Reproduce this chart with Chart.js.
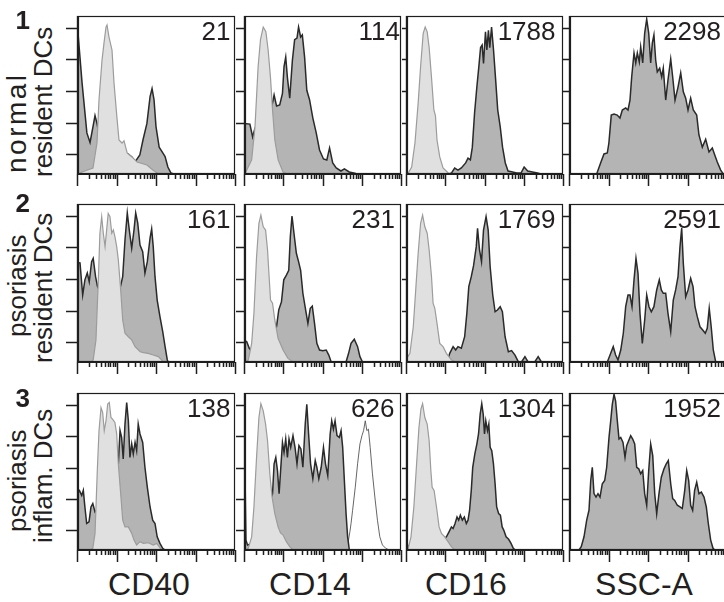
<!DOCTYPE html>
<html><head><meta charset="utf-8">
<script src="https://cdn.jsdelivr.net/npm/chart.js@4.4.1/dist/chart.umd.min.js"></script>
<style>
html,body{margin:0;padding:0;background:#fff;overflow:hidden;width:724px;height:602px;}
#wrap{position:relative;width:724px;height:602px;overflow:hidden;font-family:"Liberation Sans",Arial,Helvetica,sans-serif;color:#231f20;}
.num{position:absolute;font-size:26px;line-height:26px;text-align:right;width:120px;white-space:nowrap;}
.rl{position:absolute;font-size:26px;line-height:26px;white-space:nowrap;transform-origin:0 0;transform:rotate(-90deg);}
.rn{position:absolute;font-size:26px;font-weight:bold;line-height:26px;text-align:right;width:40px;}
.xt{position:absolute;font-size:32px;line-height:32px;width:160px;text-align:center;white-space:nowrap;}
</style></head><body><div id="wrap"></div>
<script>
// ---------- data: x in decades (0..4), y in % of panel height ----------
const markers = ['CD40','CD14','CD16','SSC-A'];
const rowNumbers = ['1','2','3'];
const rowLines = [['normal','resident DCs'],['psoriasis','resident DCs'],['psoriasis','inflam. DCs']];
const panelValues = [['21','114','1788','2298'],['161','231','1769','2591'],['138','626','1304','1952']];
const xMajor = [0,1,2,3,4];
const minorMultipliers = [2,3,4,5,6,7,8,9];
const yTicks = [12.5,32.5,52.5,72.5,92.5];

const cd40_normal_iso = [[0.05,0],[0.127,1.3],[0.405,3.8],[0.506,19.6],[0.557,47],[0.633,72],[0.684,83],[0.734,93],[0.76,94.3],[0.81,86.7],[0.886,78.5],[0.937,57.6],[1.01,36],[1.063,21.5],[1.14,19.6],[1.19,21],[1.27,13.3],[1.39,10.8],[1.52,7.6],[1.77,5.7],[1.92,2.5],[2.03,0.6],[2.1,0]];
const cd40_normal_stain = [[0,97],[0.025,97],[0.127,58],[0.25,26],[0.33,20],[0.405,30],[0.456,37],[0.506,32],[0.58,21.5],[0.71,15],[0.96,10],[1.22,12],[1.29,12.7],[1.39,10.8],[1.47,7.6],[1.59,12],[1.67,21.5],[1.77,32],[1.85,49],[1.9,54],[1.95,47],[2.0,30],[2.08,17],[2.18,13],[2.23,11],[2.3,4.4],[2.38,0.6],[2.45,0]];
const cd14_normal_iso = [[0.03,0],[0.07,2.5],[0.195,8.9],[0.28,30],[0.36,68],[0.42,85],[0.49,93],[0.557,90],[0.615,78.5],[0.675,61],[0.727,40.5],[0.785,21.5],[0.87,8.9],[0.995,1.3],[1.11,0]];
const cd14_normal_stain = [[0,32],[0.025,32],[0.15,31.6],[0.22,23.4],[0.28,29],[0.405,30],[0.53,32],[0.66,38],[0.727,45],[0.767,50],[0.83,43],[0.91,43.7],[0.98,51],[1.02,68],[1.063,74],[1.106,61],[1.165,48],[1.233,72],[1.29,85],[1.35,86],[1.39,93],[1.443,86.7],[1.486,88],[1.544,74],[1.6,53],[1.67,47],[1.754,35.4],[1.84,26],[1.924,15.2],[2.025,9.5],[2.11,8.9],[2.18,16.5],[2.26,7],[2.35,3.8],[2.47,1.9],[2.557,3.2],[2.68,1.3],[2.85,0.4],[2.95,0]];
const cd16_normal_iso = [[0.02,0],[0.058,0.6],[0.144,4.4],[0.228,19.6],[0.31,45],[0.372,68],[0.438,89],[0.489,93],[0.54,90],[0.59,80],[0.65,61],[0.71,40.5],[0.75,37],[0.79,21.5],[0.86,10.8],[0.944,3.8],[1.07,0.8],[1.157,0]];
const cd16_normal_stain = [[1.1,0],[1.157,0.6],[1.24,3.8],[1.324,2.5],[1.41,3.8],[1.52,7],[1.58,10],[1.64,8.9],[1.69,17],[1.747,38.6],[1.805,55],[1.856,68],[1.9,80],[1.94,81.6],[1.975,70],[2.025,90],[2.06,78.5],[2.1,91],[2.134,80],[2.18,93],[2.23,78.5],[2.28,61],[2.337,40.5],[2.4,30],[2.46,17],[2.53,7],[2.6,1.9],[2.717,1.3],[2.82,0.6],[2.93,0.6],[3.01,4.4],[3.1,1.9],[3.22,1.3],[3.35,0.6],[3.435,0]];
const ssc_normal = [[0.7,0],[0.8,7],[0.886,12.7],[0.97,13.3],[1.01,19.6],[1.07,37.3],[1.14,38],[1.22,37.3],[1.29,35.4],[1.35,40.5],[1.435,41.8],[1.494,40.5],[1.544,46.8],[1.587,61.4],[1.646,76.6],[1.69,70.3],[1.73,76.6],[1.78,71],[1.815,80.4],[1.866,70.3],[1.916,89.2],[1.967,98],[2.018,89.2],[2.068,70.3],[2.11,83],[2.15,88],[2.195,72],[2.235,64.6],[2.296,67],[2.347,61.4],[2.387,67],[2.448,46.8],[2.506,59.5],[2.575,72.8],[2.625,61.4],[2.684,46.8],[2.76,55],[2.828,64],[2.894,52],[2.954,48],[3.013,40.5],[3.08,48],[3.147,40.5],[3.233,37.3],[3.29,24.7],[3.375,17],[3.46,22],[3.544,14],[3.628,16.5],[3.69,12],[3.754,7.6],[3.84,2.5],[3.906,0]];

const cd40_psor_iso = [[0.36,0],[0.41,1.3],[0.48,14],[0.54,52],[0.58,81.5],[0.625,92],[0.666,81.5],[0.71,73],[0.75,83.5],[0.79,94],[0.835,92],[0.88,81.5],[0.92,83.5],[0.96,79.3],[1.005,73],[1.046,64.6],[1.106,45.6],[1.157,26.6],[1.215,18.2],[1.3,16],[1.385,14],[1.47,9.7],[1.6,6.5],[1.68,5.9],[1.8,5.5],[1.93,4.4],[2.06,3.4],[2.14,1.3],[2.18,0]];
const cd40_psor_stain = [[0,63],[0.076,62.7],[0.144,42.4],[0.2,52],[0.26,56.3],[0.31,50.8],[0.37,63.5],[0.41,65.6],[0.47,54],[0.52,47.7],[0.58,45],[0.8,45],[1.0,44],[1.09,46.8],[1.157,54],[1.215,77.2],[1.273,94.3],[1.324,83.5],[1.385,72],[1.443,83.5],[1.486,94.3],[1.537,88],[1.595,74],[1.663,69.8],[1.72,56.3],[1.78,63.5],[1.85,78.5],[1.89,84.2],[1.93,73],[1.975,54],[2.03,39.2],[2.1,28.7],[2.17,19.2],[2.23,9.7],[2.286,1.3],[2.31,0]];
const cd14_psor_iso = [[0.06,0],[0.11,1.3],[0.195,11.8],[0.253,30.8],[0.32,66.6],[0.38,87.8],[0.43,93],[0.49,85.6],[0.55,83.5],[0.6,70.9],[0.64,54],[0.676,39.2],[0.727,37.2],[0.785,26.6],[0.868,15],[0.995,7.6],[1.12,2.3],[1.25,0]];
const cd14_psor_stain = [[0,14],[0.07,12.8],[0.134,8.7],[0.25,5],[0.45,6],[0.6,10],[0.72,18],[0.828,22.3],[0.886,33],[0.954,38],[1.013,52],[1.08,55],[1.14,58],[1.18,79.3],[1.223,92.4],[1.273,81.5],[1.334,68.8],[1.39,63.5],[1.443,58],[1.5,43.5],[1.57,33],[1.628,24.5],[1.688,34],[1.74,35.4],[1.797,24.5],[1.856,11.8],[1.924,7.6],[2.008,7.2],[2.094,7.6],[2.16,4.4],[2.22,0.2],[2.6,0],[2.665,5.5],[2.727,11.8],[2.81,14.4],[2.894,9.7],[2.954,3.4],[3.02,0]];
const cd16_psor_iso = [[0,0],[0.018,2.3],[0.1,5.5],[0.185,22.3],[0.253,47.7],[0.31,68.8],[0.372,87.8],[0.423,93],[0.48,85.6],[0.54,81.5],[0.59,70.9],[0.65,54],[0.69,37.2],[0.734,34],[0.79,24.5],[0.86,11.8],[0.944,9.7],[1.03,5.5],[1.157,1.3],[1.28,0]];
const cd16_psor_stain = [[1.05,0],[1.114,5.5],[1.2,9.7],[1.266,7.6],[1.324,9.7],[1.41,8.7],[1.494,16],[1.55,30.8],[1.6,47.7],[1.663,54],[1.72,60.8],[1.79,73],[1.823,84.6],[1.873,70.9],[1.924,63.5],[1.975,83.5],[2.04,92],[2.094,83.5],[2.144,60.3],[2.21,42.4],[2.27,31.8],[2.33,32.9],[2.4,35],[2.456,31.8],[2.524,16],[2.608,6.5],[2.69,7.2],[2.777,4.4],[2.86,0.2],[2.944,0],[3.03,3.4],[3.11,0],[3.28,0],[3.367,3.4],[3.45,0]];
const ssc_psor = [[0.97,0],[1.056,5.5],[1.12,9.7],[1.18,4.4],[1.24,1.3],[1.31,7.6],[1.375,18.2],[1.435,35],[1.494,42.4],[1.544,42.4],[1.595,35],[1.646,52],[1.696,65.6],[1.747,56.1],[1.797,30.8],[1.856,11.8],[1.916,26.6],[1.967,42.4],[2.025,35],[2.084,31.8],[2.15,35],[2.22,45.6],[2.286,52],[2.337,45.6],[2.387,43.5],[2.448,43.5],[2.506,30.8],[2.575,19.2],[2.64,39.2],[2.7,45.6],[2.76,54],[2.81,73],[2.853,84.8],[2.894,62.5],[2.954,41.3],[3.013,45.6],[3.08,53],[3.14,47.7],[3.19,35],[3.248,28.7],[3.316,22.3],[3.385,20.3],[3.45,18.2],[3.5,21.3],[3.55,34],[3.6,22.3],[3.653,7.6],[3.714,0]];

const cd40_infl_iso = [[0.35,0],[0.4,1.1],[0.456,10.6],[0.514,50.6],[0.557,76],[0.608,90.7],[0.65,87.5],[0.69,76],[0.734,82.3],[0.777,93],[0.818,94],[0.86,84.4],[0.9,83.3],[0.96,81.2],[1.005,73.9],[1.046,54.9],[1.106,35.9],[1.157,19],[1.215,14.7],[1.3,14.7],[1.385,10.6],[1.443,6.3],[1.51,3.2],[1.595,5.3],[1.68,4.2],[1.805,4.6],[1.93,3.2],[2.018,4.2],[2.08,2.1],[2.14,0]];
const cd40_infl_stain = [[0,38],[0.058,38],[0.12,34.8],[0.16,38],[0.2,27.4],[0.245,16.9],[0.304,17.9],[0.354,27.4],[0.4,29.6],[0.456,24.2],[0.52,26],[0.6,30],[0.8,40],[1.0,50],[1.046,55],[1.09,76],[1.13,71.7],[1.17,58],[1.215,80.2],[1.258,93.9],[1.3,82.3],[1.34,59],[1.385,67.5],[1.425,61.2],[1.47,68.5],[1.51,63.3],[1.55,80.2],[1.595,73.9],[1.663,68.5],[1.72,52.7],[1.78,40],[1.85,27.4],[1.916,19],[1.975,16.9],[2.03,8.4],[2.1,4.2],[2.17,1.1],[2.23,0]];
const cd14_infl_iso = [[0.06,0],[0.11,1.1],[0.195,8.4],[0.253,27.4],[0.32,59],[0.38,84.4],[0.43,93.2],[0.49,88.6],[0.55,80.2],[0.6,69.6],[0.658,48.5],[0.716,33.7],[0.785,23.2],[0.868,14.7],[0.93,10.9],[0.995,9.5],[1.08,5.3],[1.165,2.1],[1.25,0]];
const cd14_infl_stain = [[0,62],[0.025,50],[0.05,6.3],[0.09,3.2],[0.3,5],[0.5,15],[0.65,30],[0.727,35.9],[0.767,54.9],[0.81,59],[0.853,50.6],[0.894,35.9],[0.98,68.5],[1.02,62.2],[1.063,70.7],[1.106,59],[1.147,70.7],[1.19,65.4],[1.248,72.8],[1.3,65.4],[1.35,54.9],[1.4,66.5],[1.45,64.4],[1.5,52.7],[1.56,80.2],[1.6,92.8],[1.646,73.9],[1.696,54.9],[1.754,45.4],[1.815,57],[1.856,52.7],[1.906,45.4],[1.967,52.7],[2.025,65.4],[2.076,54.9],[2.134,47.5],[2.195,73.9],[2.235,82.3],[2.278,77],[2.32,82.3],[2.37,72.8],[2.43,71.7],[2.473,76],[2.514,65.4],[2.557,44.3],[2.6,23.2],[2.64,8.4],[2.684,0]];
const cd14_infl_ctrl2 = [[2.62,0],[2.7,12],[2.727,16.9],[2.767,25.3],[2.835,40],[2.894,54.9],[2.954,67.5],[3.005,72.8],[3.046,76],[3.09,82.3],[3.13,76],[3.17,77],[3.215,65.4],[3.273,48.5],[3.334,33.7],[3.4,19],[3.46,8.4],[3.527,3.2],[3.61,1.1],[3.696,0]];
const cd16_infl_iso = [[0.02,0],[0.058,1.1],[0.127,8.4],[0.2,27.4],[0.27,54.9],[0.33,78],[0.38,89.7],[0.423,93.2],[0.48,84.4],[0.54,80.2],[0.59,69.6],[0.633,50.6],[0.666,40],[0.716,38],[0.777,27.4],[0.843,14.7],[0.904,10.6],[0.987,8.4],[1.07,5.3],[1.157,2.1],[1.24,0]];
const cd16_infl_stain = [[0,10],[0.04,3],[0.1,1],[0.5,3],[0.9,6],[1.03,8.4],[1.096,11.6],[1.157,14.7],[1.2,13.7],[1.25,16.9],[1.3,21],[1.342,19],[1.385,22.2],[1.435,19],[1.486,21],[1.537,16.9],[1.58,19],[1.62,25.3],[1.663,38],[1.7,52.7],[1.754,61.2],[1.805,67.5],[1.848,73.9],[1.89,86.5],[1.93,93.2],[1.967,86.5],[2.0,73.9],[2.033,82.3],[2.076,76],[2.11,80.2],[2.144,65.4],[2.185,63.3],[2.228,54.9],[2.27,42.2],[2.31,27.4],[2.36,23.2],[2.405,22.2],[2.45,14.7],[2.49,12.7],[2.55,8.4],[2.615,6.8],[2.676,4.2],[2.734,1.1],[2.785,0]];
const ssc_infl = [[0.253,0],[0.31,2.1],[0.38,8.4],[0.448,19],[0.506,25.3],[0.55,44.3],[0.59,52.7],[0.633,35.9],[0.684,33.7],[0.734,35.9],[0.785,33.7],[0.843,42.2],[0.904,44.3],[0.954,52.7],[1.013,71.7],[1.056,82.3],[1.096,92.8],[1.14,99.2],[1.18,94.9],[1.223,82.3],[1.266,70.7],[1.31,71.7],[1.367,68.5],[1.418,59],[1.46,66.5],[1.51,69.6],[1.562,72.8],[1.613,70.7],[1.663,67.5],[1.714,52.7],[1.765,51.7],[1.815,48.5],[1.866,50.6],[1.916,35.9],[1.967,28.5],[2.018,50.6],[2.068,67.5],[2.12,60.1],[2.17,35.9],[2.22,23.2],[2.278,35.9],[2.337,46.4],[2.405,51.7],[2.463,54.9],[2.514,57],[2.575,42.2],[2.625,32.7],[2.676,31.6],[2.742,28.5],[2.81,27.4],[2.868,26.4],[2.93,38],[2.98,50.6],[3.03,44.3],[3.08,28.5],[3.13,25.3],[3.18,38],[3.233,43.2],[3.29,35.9],[3.35,36.9],[3.418,33.7],[3.476,27.4],[3.527,16.9],[3.587,6.3],[3.646,1.1],[3.69,0]];

// ---------- layout ----------
const colLeft = [77,244,406,569], colRight = [235,401,563,727];
const rowTop = [16,204,393], rowBottom = [174,362,550];
const yTickLen = [11,8,4,6];
const numRight = [[230.5,400,555.5,721],[230.5,395,555.5,721],[230.5,394.5,555.5,721]];
const PAD = {l:14, r:2, t:2, b:14};

const panelSeries = [
  [[cd40_normal_iso,cd40_normal_stain],[cd14_normal_iso,cd14_normal_stain],[cd16_normal_iso,cd16_normal_stain],[null,ssc_normal]],
  [[cd40_psor_iso,cd40_psor_stain],[cd14_psor_iso,cd14_psor_stain],[cd16_psor_iso,cd16_psor_stain],[null,ssc_psor]],
  [[cd40_infl_iso,cd40_infl_stain],[cd14_infl_iso,cd14_infl_stain,cd14_infl_ctrl2],[cd16_infl_iso,cd16_infl_stain],[null,ssc_infl]]
];

const styles = {
  iso:   {backgroundColor:'#e0e0e0', borderColor:'#9c9c9c', borderWidth:1.2, fill:'origin'},
  stain: {backgroundColor:'#b4b4b4', borderColor:'#2a2a2a', borderWidth:1.5, fill:'origin'},
  ctrl:  {backgroundColor:'rgba(0,0,0,0)', borderColor:'#555555', borderWidth:0.9, fill:false}
};

const framePlugin = {
  id:'frame',
  afterDraw(chart, args, opts){
    const {ctx, chartArea:a, scales:{x, y}} = chart;
    ctx.save();
    ctx.strokeStyle = '#1e1e1e';
    ctx.lineWidth = 1.5;
    ctx.beginPath();
    yTicks.forEach(v => {
      const py = Math.round(y.getPixelForValue(v)) + 0.5;
      ctx.moveTo(a.left, py); ctx.lineTo(a.left - opts.tickLen, py);
    });
    xMajor.forEach((d, i) => {
      const px = Math.round(x.getPixelForValue(d)) + 0.5;
      ctx.moveTo(px, a.bottom); ctx.lineTo(px, a.bottom + 12);
      if (i < xMajor.length - 1) minorMultipliers.forEach(m => {
        const p = Math.round(x.getPixelForValue(d + Math.log10(m))) + 0.5;
        ctx.moveTo(p, a.bottom); ctx.lineTo(p, a.bottom + 5);
      });
    });
    ctx.stroke();
    ctx.lineWidth = 1.2;
    ctx.strokeRect(a.left + 0.5, a.top + 0.5, a.right - a.left - 1, a.bottom - a.top - 1);
    ctx.lineWidth = 2.2;
    ctx.beginPath();
    ctx.moveTo(a.left + 1, a.top); ctx.lineTo(a.left + 1, a.bottom);
    ctx.moveTo(a.left, a.bottom); ctx.lineTo(a.right, a.bottom);
    ctx.stroke();
    ctx.restore();
  }
};

const wrap = document.getElementById('wrap');
function mkDs(arr, kind){
  return Object.assign({data: arr.map(p => ({x:p[0], y:p[1]})), pointRadius:0, tension:0}, styles[kind]);
}

for (let r = 0; r < 3; r++) for (let c = 0; c < 4; c++) {
  const w = colRight[c] - colLeft[c] + PAD.l + PAD.r;
  const h = rowBottom[r] - rowTop[r] + PAD.t + PAD.b;
  const cv = document.createElement('canvas');
  cv.width = w; cv.height = h;
  cv.style.cssText = `position:absolute;left:${colLeft[c]-PAD.l}px;top:${rowTop[r]-PAD.t}px;width:${w}px;height:${h}px;`;
  wrap.appendChild(cv);
  const s = panelSeries[r][c];
  const datasets = [];
  if (s[0]) datasets.push(mkDs(s[0], 'iso'));
  datasets.push(mkDs(s[1], 'stain'));
  if (s[2]) datasets.push(mkDs(s[2], 'ctrl'));
  new Chart(cv, {
    type:'line',
    data:{datasets},
    options:{
      responsive:false, animation:false, devicePixelRatio:1,
      layout:{padding:{left:PAD.l, right:PAD.r, top:PAD.t, bottom:PAD.b}},
      plugins:{legend:{display:false}, tooltip:{enabled:false}, frame:{tickLen:yTickLen[c]}},
      scales:{
        x:{type:'linear', min:0, max:4, display:false},
        y:{type:'linear', min:0, max:100, display:false}
      }
    },
    plugins:[framePlugin]
  });
  const n = document.createElement('div');
  n.className = 'num';
  n.textContent = panelValues[r][c];
  n.style.left = (numRight[r][c] - 120) + 'px';
  n.style.top = (rowTop[r] + 2) + 'px';
  wrap.appendChild(n);
}

// row labels
const rowLabelPos = [
  [{x:3,y:173,ls:2.5,fs:28},{x:30,y:177,ls:0,fs:26}],
  [{x:4,y:337,ls:0,fs:26},{x:30,y:363,ls:0,fs:26}],
  [{x:4,y:532,ls:0,fs:26},{x:30,y:543,ls:0,fs:26}]
];
const rowNumBase = [29,212,407];
for (let r = 0; r < 3; r++) {
  rowLines[r].forEach((t, i) => {
    const d = document.createElement('div');
    d.className = 'rl';
    d.textContent = t;
    const p = rowLabelPos[r][i];
    d.style.left = p.x + 'px'; d.style.top = p.y + 'px';
    d.style.fontSize = p.fs + 'px'; d.style.lineHeight = p.fs + 'px';
    if (p.ls) d.style.letterSpacing = p.ls + 'px';
    wrap.appendChild(d);
  });
  const rn = document.createElement('div');
  rn.className = 'rn';
  rn.textContent = rowNumbers[r];
  rn.style.left = (30 - 40) + 'px';
  rn.style.top = (rowNumBase[r] - 22) + 'px';
  wrap.appendChild(rn);
}
// x titles
const titleCenters = [149,310,466,644];
markers.forEach((t, i) => {
  const d = document.createElement('div');
  d.className = 'xt';
  d.textContent = t;
  d.style.left = (titleCenters[i] - 80) + 'px';
  d.style.top = (595 - 27) + 'px';
  wrap.appendChild(d);
});
</script>
</body></html>
